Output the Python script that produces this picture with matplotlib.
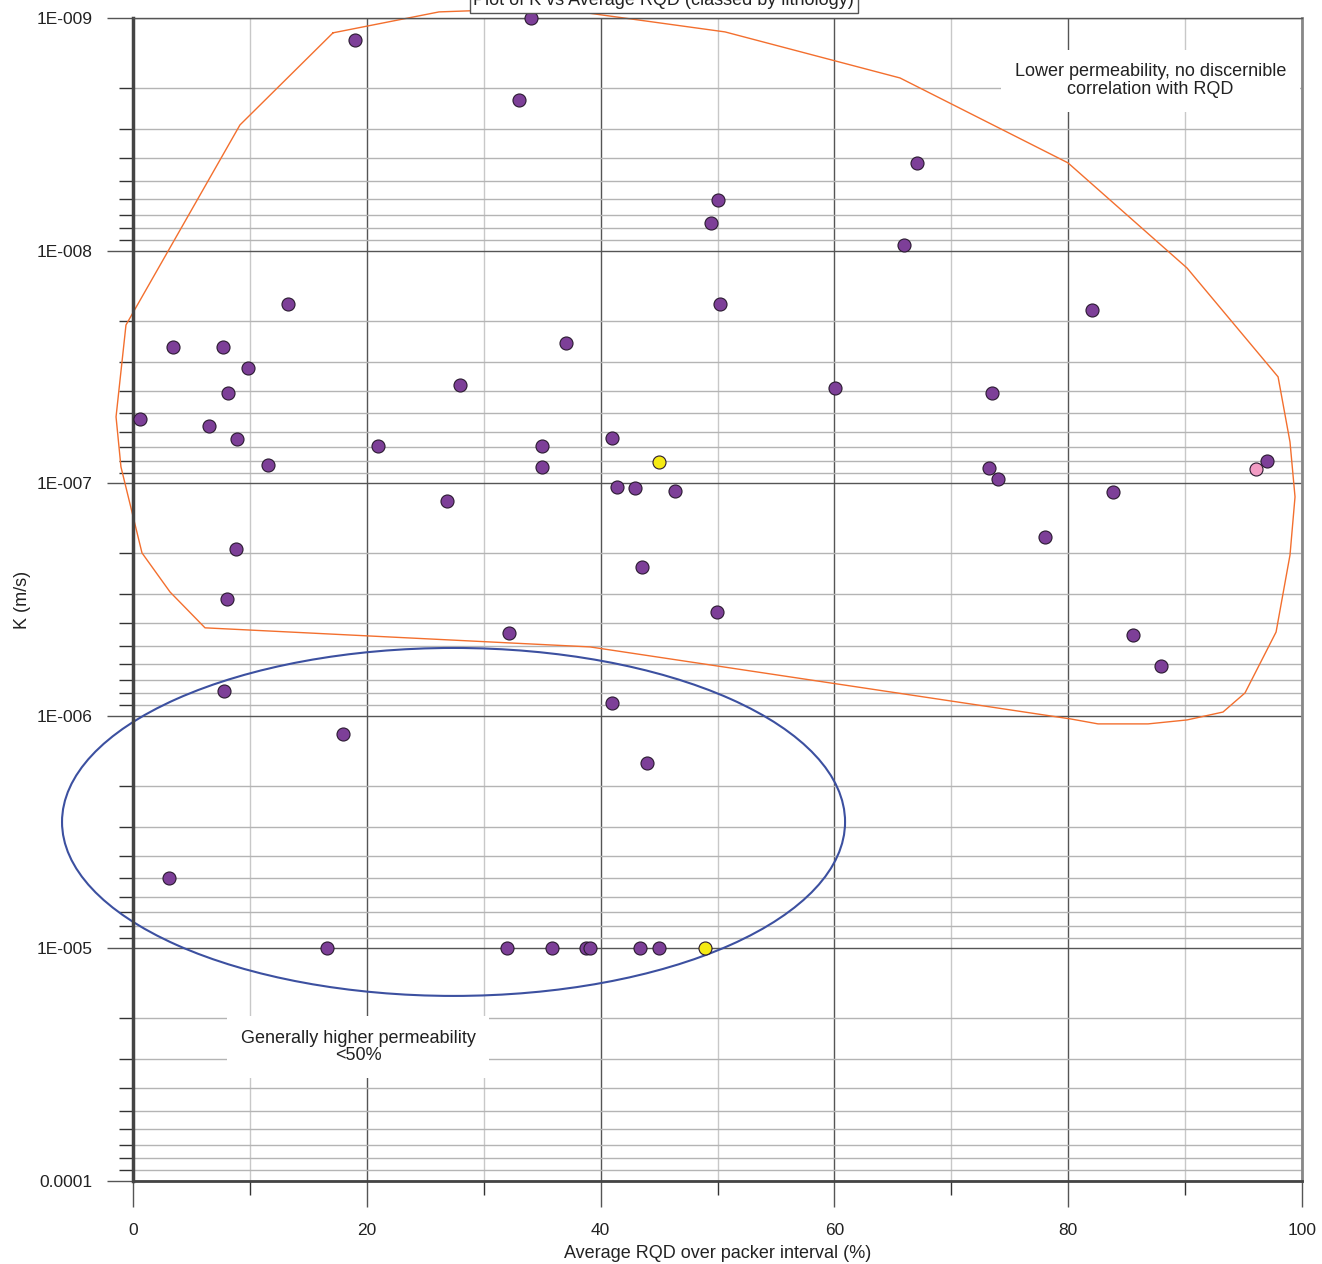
import numpy as np
import matplotlib
matplotlib.use("Agg")
from matplotlib import pyplot as plt
from matplotlib.patches import Ellipse
from matplotlib.ticker import FixedLocator, NullFormatter

plt.rcParams['font.family'] = ['Liberation Sans', 'DejaVu Sans']

# average RQD (%) and hydraulic conductivity K (m/s), one entry per packer test
rqd_main = [19.0, 34.05, 33.0, 67.07, 50.04, 49.44, 65.95, 13.26, 50.2, 82.0,
            3.42, 7.7, 37.0, 9.84, 27.97, 60.05, 8.1, 73.5, 0.6, 6.5,
            8.9, 41.0, 21.0, 35.0, 11.55, 35.0, 73.2, 97.0, 74.0, 41.4,
            42.9, 46.4, 83.8, 26.9, 78.0, 8.8, 43.5, 8.0, 49.96, 32.2,
            85.5, 87.9, 7.8, 41.0, 17.96, 43.97, 3.08, 16.6, 32.0, 35.8,
            38.75, 39.1, 43.4, 45.0]
k_main = [1.245e-9, 1.0e-9, 2.25e-9, 4.2e-9, 6.05e-9, 7.6e-9, 9.46e-9, 1.7e-8, 1.7e-8, 1.8e-8,
          2.6e-8, 2.6e-8, 2.5e-8, 3.2e-8, 3.8e-8, 3.9e-8, 4.1e-8, 4.1e-8, 5.3e-8, 5.7e-8,
          6.45e-8, 6.4e-8, 6.9e-8, 6.9e-8, 8.35e-8, 8.5e-8, 8.6e-8, 8.0e-8, 9.6e-8, 1.04e-7,
          1.05e-7, 1.08e-7, 1.09e-7, 1.19e-7, 1.7e-7, 1.92e-7, 2.29e-7, 3.15e-7, 3.58e-7, 4.4e-7,
          4.5e-7, 6.1e-7, 7.8e-7, 8.8e-7, 1.2e-6, 1.6e-6, 5.0e-6, 1e-5, 1e-5, 1e-5,
          1e-5, 1e-5, 1e-5, 1e-5]

rqd_yellow = [45.0, 48.9]
k_yellow = [8.1e-8, 1e-5]

rqd_pink = [96.06]
k_pink = [8.7e-8]

# outline around the low permeability group (RQD %, log10 K)
outline_rqd = [17.11, 26.18, 35.76, 50.64, 65.61, 79.98, 90.16, 97.95, 98.97, 99.40,
               98.97, 97.78, 95.12, 93.24, 90.16, 86.83, 82.55, 80.24, 39.09, 6.16,
               3.17, 0.77, -1.03, -1.45, -0.60, 9.15, 17.11]
outline_logk = [-8.936, -9.026, -9.043, -8.940, -8.742, -8.377, -7.925, -7.457, -7.177, -6.941,
                -6.691, -6.360, -6.098, -6.016, -5.982, -5.965, -5.965, -5.986, -6.296, -6.378,
                -6.532, -6.700, -7.070, -7.285, -7.680, -8.540, -8.936]

y_ticks = [1e-9, 1e-8, 1e-7, 1e-6, 1e-5, 1e-4]
y_labels = ['1E-009', '1E-008', '1E-007', '1E-006', '1E-005', '0.0001']
x_ticks = [0, 20, 40, 60, 80, 100]

fig = plt.figure(figsize=(13.22, 12.64), dpi=100)
ax = fig.add_axes([0.1006, 0.0657, 0.8843, 0.9201])

ax.set_yscale('log')
ax.set_ylim(1e-4, 1e-9)
ax.set_xlim(0, 100)

ax.yaxis.set_major_locator(FixedLocator(y_ticks))
ax.set_yticklabels(y_labels)
minor_y = [m * 10.0 ** e for e in range(-9, -4) for m in range(2, 10)]
ax.yaxis.set_minor_locator(FixedLocator(minor_y))
ax.yaxis.set_minor_formatter(NullFormatter())

ax.set_xticks(x_ticks)
ax.set_xticklabels([str(v) for v in x_ticks])
ax.xaxis.set_minor_locator(FixedLocator([10, 30, 50, 70, 90]))

ax.grid(which='major', axis='both', color='#555555', linewidth=1.0)
ax.grid(which='minor', axis='y', color='#b4b4b4', linewidth=1.0)
ax.grid(which='minor', axis='x', color='#c8c8c8', linewidth=1.0)
ax.set_axisbelow(True)

ax.tick_params(axis='both', which='major', length=19, width=1.0, color='#555555',
               labelsize=12.5, labelcolor='#222222')
ax.tick_params(axis='y', which='major', pad=10)
ax.tick_params(axis='x', which='major', pad=11)
ax.tick_params(axis='both', which='minor', length=10, width=1.0, color='#333333')

ax.spines['left'].set_linewidth(2.5)
ax.spines['left'].set_color('#444444')
ax.spines['bottom'].set_linewidth(2.0)
ax.spines['bottom'].set_color('#444444')
ax.spines['right'].set_linewidth(2.0)
ax.spines['right'].set_color('#888888')
ax.spines['top'].set_linewidth(1.0)
ax.spines['top'].set_color('#555555')

# grouping outlines
ax.plot(outline_rqd, 10.0 ** np.array(outline_logk), color='#f36f2e',
        linewidth=1.0, clip_on=False, zorder=2)
ax.add_patch(Ellipse((0.2742, 0.3087), 0.6698, 0.2992, transform=ax.transAxes,
                     fill=False, edgecolor='#3c50a0', linewidth=1.5,
                     clip_on=False, zorder=2))

ax.scatter(rqd_main, k_main, s=88, color='#7d3f98', edgecolor='#2a1a30',
           linewidth=0.8, zorder=4, clip_on=False)
ax.scatter(rqd_yellow, k_yellow, s=88, color='#f5ea14', edgecolor='#2a1a30',
           linewidth=0.8, zorder=4, clip_on=False)
ax.scatter(rqd_pink, k_pink, s=88, color='#f29cc4', edgecolor='#2a1a30',
           linewidth=0.8, zorder=4, clip_on=False)

ax.text(0.8705, 0.946, 'Lower permeability, no discernible\ncorrelation with RQD',
        transform=ax.transAxes, ha='center', va='center', fontsize=13,
        color='#222222', linespacing=1.05, zorder=5,
        bbox=dict(boxstyle='square,pad=0.75', facecolor='white', edgecolor='none'))
ax.text(0.1925, 0.1152, 'Generally higher permeability\n<50%',
        transform=ax.transAxes, ha='center', va='center', fontsize=13,
        color='#222222', linespacing=1.05, zorder=5,
        bbox=dict(boxstyle='square,pad=0.75', facecolor='white', edgecolor='none'))

ax.set_xlabel('Average RQD over packer interval (%)', fontsize=13,
              color='#222222', labelpad=5)
ax.set_ylabel('K (m/s)', fontsize=13, color='#222222', labelpad=4)

fig.text(0.502, 0.9925, 'Plot of K vs Average RQD (classed by lithology)',
         ha='center', va='bottom', fontsize=13, color='#222222', zorder=6,
         bbox=dict(boxstyle='square,pad=0.2', facecolor='white', edgecolor='#555555'))

fig.savefig('out.png', dpi=100)
